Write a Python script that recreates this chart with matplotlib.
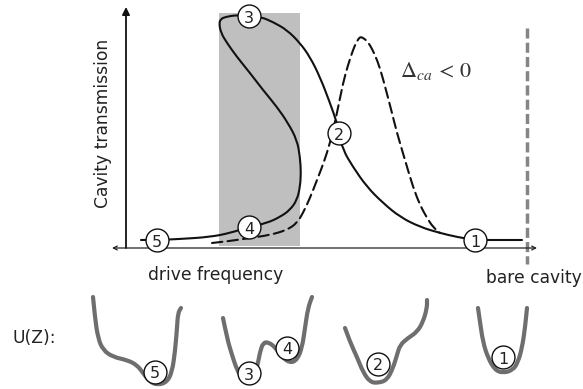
import matplotlib.pyplot as plt
from matplotlib.patches import Rectangle, PathPatch
from matplotlib.path import Path

plt.rcParams['mathtext.fontset'] = 'stix'

# everything is laid out in pixel units of the 583x389 picture (y grows downwards)

# bistable (solid) transmission curve
solid_x = [141, 157, 180, 210, 230, 249, 267, 280, 290, 297, 300, 301, 300, 297, 288,
           277, 263, 250, 237, 227, 221, 219, 221, 225, 237, 249, 261, 273, 287, 300,
           310, 320, 330, 337, 339, 343, 353, 367, 383, 400, 420, 440, 457, 475, 495,
           522]
solid_y = [240, 240, 239, 237, 233, 227, 223, 217, 210, 200, 187, 173, 157, 140, 123,
           107, 90, 73, 57, 43, 33, 23, 19, 17, 15, 16, 17, 22, 30, 43,
           57, 77, 103, 123, 133, 150, 167, 187, 203, 217, 227, 233, 237, 240, 240,
           240]

# linear (dashed) Lorentzian
dash_x = [212, 230, 250, 270, 287, 297, 303, 310, 317, 324, 330, 336, 343, 348, 353,
          356, 359, 361, 363, 366, 370, 375, 380, 386, 392, 397, 405, 413, 420, 427,
          433, 440]
dash_y = [243, 241, 238, 235, 230, 223, 213, 198, 180, 162, 143, 118, 83, 65, 50,
          43, 38, 37, 38, 40, 45, 55, 68, 90, 113, 133, 160, 187, 205, 218,
          227, 233]

top_labels = ['3', '2', '4', '5', '1']
top_cx = [249, 339, 249, 157, 475]
top_cy = [16, 133, 227, 240, 240]

# potential wells U(Z)
well5_x = [93, 95, 98, 103, 113, 127, 137, 143, 150, 158, 167, 172, 175, 177, 178, 181]
well5_y = [297, 318, 338, 350, 357, 360, 365, 373, 382, 385, 382, 372, 352, 328, 313, 308]
well34_x = [223, 227, 232, 237, 242, 246, 252, 257, 260, 263, 268, 275, 282, 290, 297,
            302, 305, 308, 312]
well34_y = [318, 338, 355, 370, 378, 382, 378, 368, 352, 343, 342, 347, 357, 363, 360,
            348, 328, 308, 297]
well2_x = [345, 350, 357, 363, 370, 378, 387, 393, 397, 400, 408, 417, 423, 427, 427]
well2_y = [328, 342, 357, 372, 382, 383, 380, 368, 355, 345, 338, 332, 322, 308, 300]
well1_x = [478, 480, 483, 488, 495, 503, 513, 518, 522, 525, 527]
well1_y = [308, 322, 342, 358, 370, 373, 370, 362, 348, 328, 308]

bot_labels = ['5', '3', '4', '2', '1']
bot_cx = [155, 249, 287, 378, 503]
bot_cy = [372, 373, 348, 364, 357]


def smooth_path(xs, ys):
    # quadratic pieces through the midpoints, so the points act as control points
    pts = list(zip(xs, ys))
    verts = [pts[0]]
    codes = [Path.MOVETO]
    for i in range(1, len(pts) - 1):
        mid = ((pts[i][0] + pts[i + 1][0]) / 2, (pts[i][1] + pts[i + 1][1]) / 2)
        verts += [pts[i], mid]
        codes += [Path.CURVE3, Path.CURVE3]
    verts.append(pts[-1])
    codes.append(Path.LINETO)
    return Path(verts, codes)


def draw_curve(ax, xs, ys, **kw):
    ax.add_patch(PathPatch(smooth_path(xs, ys), facecolor='none', capstyle='round',
                           joinstyle='round', **kw))


fig = plt.figure(figsize=(5.83, 3.89), dpi=100)
ax = fig.add_axes([0, 0, 1, 1])
ax.set_xlim(0, 583)
ax.set_ylim(389, 0)
ax.axis('off')

# bistable region
ax.add_patch(Rectangle((219, 13), 81, 233, facecolor='#bfbfbf', edgecolor='none', zorder=0))

# bare cavity marker
ax.plot([527, 527], [28, 264], color='#858585', lw=2.5, dashes=(2.9, 1.2), zorder=1)

# axes arrows
ax.annotate('', xy=(112, 248), xytext=(537, 248),
            arrowprops=dict(arrowstyle='<->', lw=0.9, color='#222222',
                            shrinkA=0, shrinkB=0, mutation_scale=7), zorder=2)
ax.annotate('', xy=(126, 7), xytext=(126, 248),
            arrowprops=dict(arrowstyle='-|>', lw=1.3, color='#111111',
                            shrinkA=0, shrinkB=0, mutation_scale=11), zorder=2)

draw_curve(ax, dash_x, dash_y, edgecolor='#111111', lw=1.5, linestyle=(0, (5, 2.5)), zorder=3)
draw_curve(ax, solid_x, solid_y, edgecolor='#111111', lw=1.5, zorder=4)

for wx, wy in [(well5_x, well5_y), (well34_x, well34_y), (well2_x, well2_y), (well1_x, well1_y)]:
    draw_curve(ax, wx, wy, edgecolor='#6e6e6e', lw=3, zorder=3)

ax.plot(top_cx + bot_cx, top_cy + bot_cy, 'o', ms=16.5, mfc='white', mec='#111111',
        mew=1.0, zorder=5)
for lab, cx, cy in zip(top_labels + bot_labels, top_cx + bot_cx, top_cy + bot_cy):
    ax.text(cx, cy + 0.5, lab, ha='center', va='center_baseline', fontsize=11.5,
            color='#222222', zorder=6)

ax.text(103, 123, 'Cavity transmission', rotation=90, ha='center', va='center',
        fontsize=12.3, color='#222222')
ax.text(216, 275, 'drive frequency', ha='center', va='center', fontsize=12.3, color='#222222')
ax.text(582, 278, 'bare cavity', ha='right', va='center', fontsize=12.3, color='#222222')
ax.text(12, 338, 'U(Z):', ha='left', va='center', fontsize=12.3, color='#222222')
ax.text(400, 77, r'$\Delta_{ca}\,<\,0$', ha='left', va='baseline', fontsize=16, color='#333333')

fig.savefig('out.png', dpi=100)
